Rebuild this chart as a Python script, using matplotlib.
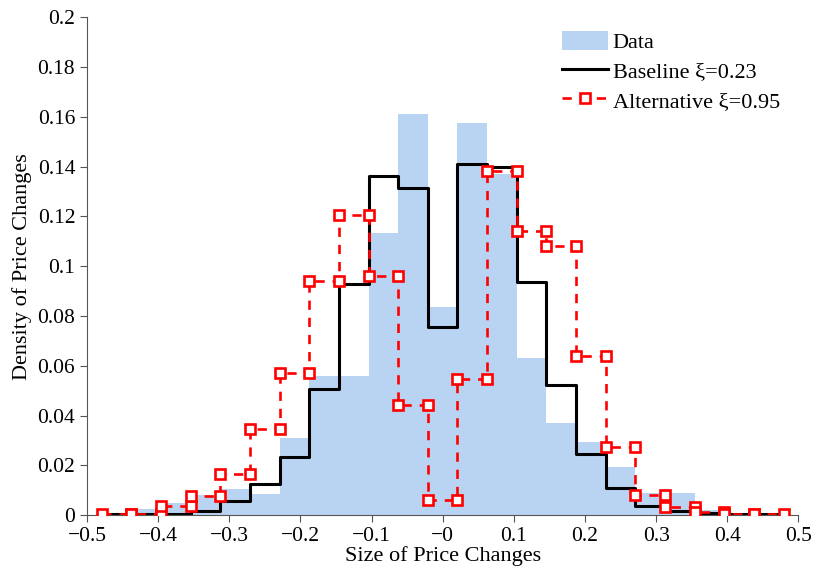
import matplotlib
matplotlib.use("Agg")
import matplotlib.pyplot as plt
import numpy as np

plt.rcParams["font.family"] = ["Liberation Serif", "DejaVu Serif"]

# bins centred on k/24, k = -11..11
bin_k = np.arange(-11, 12)
bin_width = 1 / 24

data_density = [0.0003, 0.0023, 0.0049, 0.0079, 0.0105, 0.0083, 0.031, 0.0557,
                0.056, 0.1132, 0.161, 0.0836, 0.1576, 0.137, 0.0633, 0.0369,
                0.0293, 0.0193, 0.0089, 0.0089, 0.002, 0.0005, 0.0002]
baseline = [0.0004, 0.0004, 0.0005, 0.0018, 0.0055, 0.0124, 0.0233, 0.0507,
            0.0927, 0.1364, 0.1313, 0.0757, 0.1409, 0.140, 0.0936, 0.0524,
            0.0247, 0.011, 0.0037, 0.0017, 0.0009, 0.0004, 0.0003]
alternative = [0.0004, 0.0006, 0.0035, 0.0076, 0.0165, 0.0347, 0.057, 0.094,
               0.1207, 0.096, 0.0444, 0.006, 0.0547, 0.1383, 0.1143, 0.108,
               0.0639, 0.0273, 0.008, 0.0031, 0.0013, 0.0005, 0.0003]

centers = bin_k * bin_width
left_edges = centers - bin_width / 2
right_edges = centers + bin_width / 2

# step outlines: each bin gives a point at its left and right edge
step_x = np.column_stack([left_edges, right_edges]).ravel()
base_y = np.repeat(baseline, 2)
alt_y = np.repeat(alternative, 2)

fig = plt.figure(figsize=(8.13, 5.73), dpi=100)
ax = fig.add_axes([0.107, 0.101, 0.875, 0.869])

bars = ax.bar(centers, data_density, width=bin_width, color="#b9d3f2",
              linewidth=0, label="Data", zorder=1)
base_line, = ax.plot(step_x, base_y, color="black", lw=2.2,
                     label="Baseline ξ=0.23", zorder=2)
alt_line, = ax.plot(step_x, alt_y, color="red", lw=1.9, ls=(0, (3.5, 3)),
                    marker="s", ms=6.5, mfc="white", mec="red", mew=1.9,
                    label="Alternative ξ=0.95", zorder=3)

ax.set_xlim(-0.5, 0.5)
ax.set_ylim(0, 0.2)
ax.set_xticks(np.arange(-0.5, 0.51, 0.1))
ax.set_yticks(np.arange(0, 0.201, 0.02))
ax.xaxis.set_major_formatter(plt.FuncFormatter(
    lambda v, p: ("%g" % round(v, 2)).replace("-", "\u2212")))
ax.yaxis.set_major_formatter(plt.FuncFormatter(lambda v, p: "%g" % round(v, 2)))

for side in ["top", "right"]:
    ax.spines[side].set_visible(False)
for side in ["left", "bottom"]:
    ax.spines[side].set_color("#555555")
ax.tick_params(direction="out", length=5, color="#555555", labelsize=15.5)

ax.set_xlabel("Size of Price Changes", fontsize=16, labelpad=0)
ax.set_ylabel("Density of Price Changes", fontsize=16, labelpad=4)

ax.legend([bars, base_line, alt_line],
          ["Data", "Baseline ξ=0.23", "Alternative ξ=0.95"],
          loc="upper right", bbox_to_anchor=(0.993, 1.0),
          frameon=False, fontsize=16, numpoints=1,
          handlelength=2.1, handleheight=1.0, handletextpad=0.2,
          borderaxespad=0.2, labelspacing=0.3)

fig.savefig("out.png", dpi=100)
